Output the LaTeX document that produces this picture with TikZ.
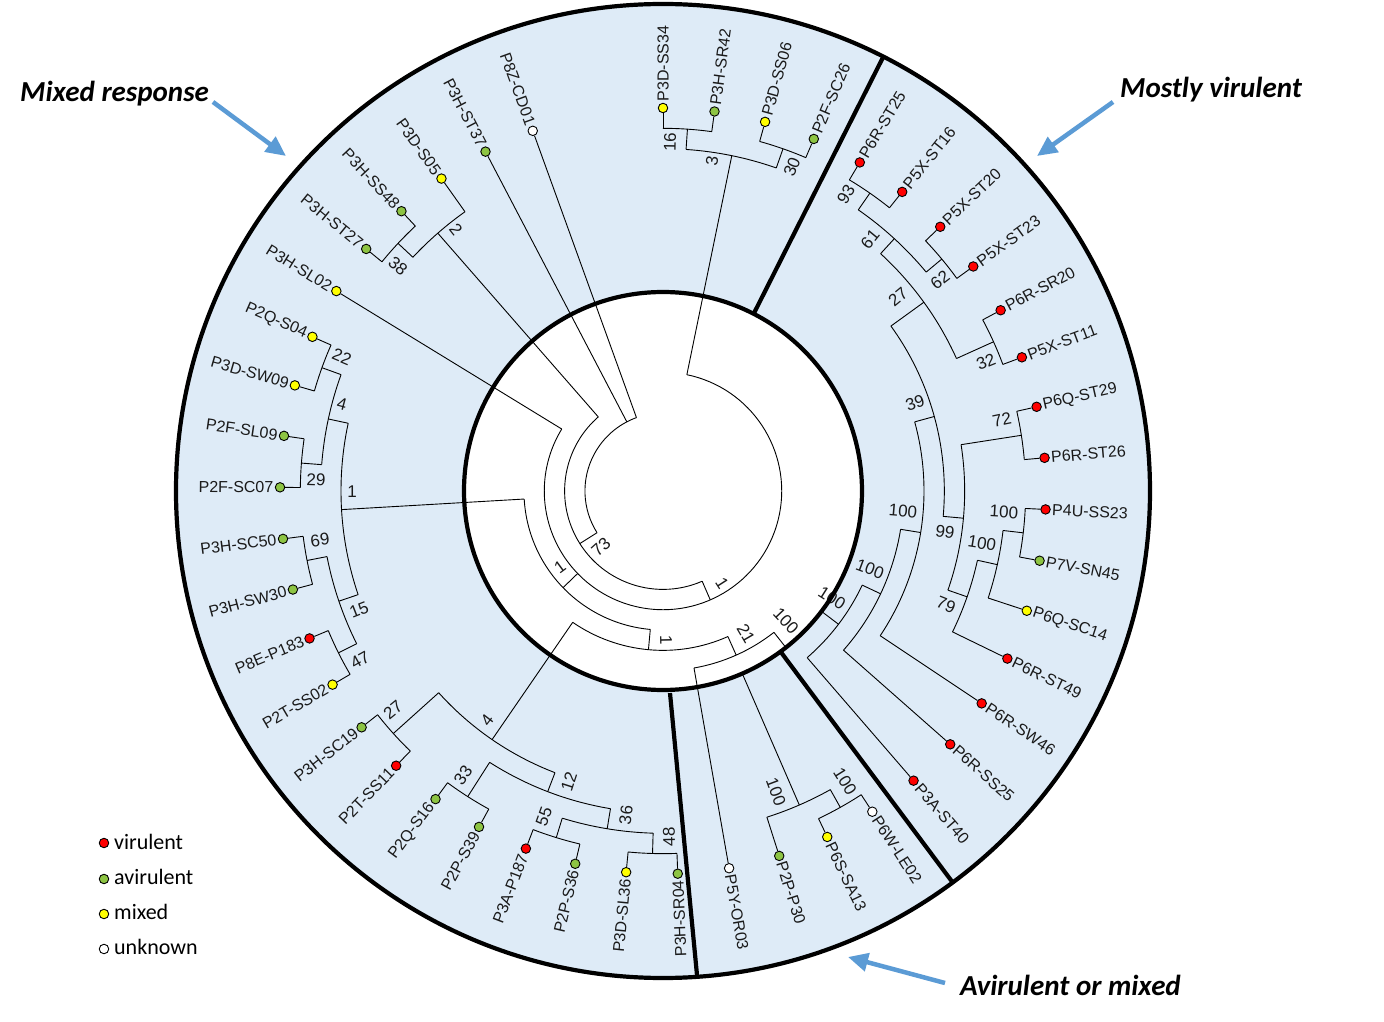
\documentclass[tikz,border=0pt]{standalone}
\usepackage{fontspec}
\setmainfont{Liberation Sans}
\newfontfamily\calibri{Carlito}
\usetikzlibrary{arrows.meta}
\definecolor{vir}{HTML}{FF0000}
\definecolor{avir}{HTML}{8DC443}
\definecolor{mix}{HTML}{FFFF00}
\definecolor{unk}{HTML}{FFFFFF}
\definecolor{ring}{HTML}{DEEBF7}
\definecolor{arrowblue}{HTML}{5B9BD5}
\definecolor{txt}{HTML}{1A1A1A}
\newcommand\tarc[3]{\draw[br] (#2:{383-20.33*#1}) arc[start angle=#2, end angle=#3, radius={383-20.33*#1}];}
\newcommand\trad[3]{\draw[br] (#1:{383-20.33*#2}) -- (#1:{383-20.33*#3});}
\newcommand\tleaf[2]{\draw[br] ({90-7.73*#1}:{383-20.33*#2}) -- (L#1);}
\begin{document}
\begin{tikzpicture}[x=1pt,y=1pt,
  br/.style={line width=0.9pt, black},
  dot/.style={circle, draw=black, line width=0.9pt, minimum size=9.5pt, inner sep=0pt},
  leaf/.style={font=\fontsize{16}{16}\selectfont, inner sep=0pt, text=txt},
  bsl/.style={font=\fontsize{17}{17}\selectfont, inner sep=0pt, text=txt},
  heavy/.style={line width=4.2pt, black},
  title/.style={font=\calibri\bfseries\itshape\fontsize{29}{29}\selectfont, inner sep=0pt, anchor=base west},
  legtxt/.style={font=\calibri\fontsize{22}{22}\selectfont, inner sep=0pt, anchor=west},
  callout/.style={line width=4.5pt, arrowblue, -{Triangle[length=20pt,width=18pt]}}
]
\useasboundingbox (-663,-531) rectangle (721,491);
\fill[white] (-663,-531) rectangle (721,491);
% ring
\fill[ring, even odd rule] (0,0) circle (487) (0,0) circle (199);

% leaves
\foreach \i/\nm/\col in {
0/P3D-SS34/mix, 1/P3H-SR42/avir, 2/P3D-SS06/mix, 3/P2F-SC26/avir,
4/P6R-ST25/vir, 5/P5X-ST16/vir, 6/P5X-ST20/vir, 7/P5X-ST23/vir,
8/P6R-SR20/vir, 9/P5X-ST11/vir, 10/P6Q-ST29/vir, 11/P6R-ST26/vir,
12/P4U-SS23/vir, 13/P7V-SN45/avir, 14/P6Q-SC14/mix, 15/P6R-ST49/vir,
16/P6R-SW46/vir, 17/P6R-SS25/vir, 18/P3A-ST40/vir, 19/P6W-LE02/unk,
20/P6S-SA13/mix, 21/P2P-P30/avir, 22/P5Y-OR03/unk, 23/P3H-SR04/avir,
24/P3D-SL36/mix, 25/P2P-S36/avir, 26/P3A-P187/vir, 27/P2P-S39/avir,
28/P2Q-S16/avir, 29/P2T-SS11/vir, 30/P3H-SC19/avir, 31/P2T-SS02/mix,
32/P8E-P183/vir, 33/P3H-SW30/avir, 34/P3H-SC50/avir, 35/P2F-SC07/avir,
36/P2F-SL09/avir, 37/P3D-SW09/mix, 38/P2Q-S04/mix, 39/P3H-SL02/mix,
40/P3H-ST27/avir, 41/P3H-SS48/avir, 42/P3D-S05/mix, 43/P3H-ST37/avir,
44/P8Z-CD01/unk}{
  \pgfmathsetmacro\ang{90-7.73*\i}
  \node[dot, fill=\col] (L\i) at (\ang:383) {};
  \ifnum\i<23
    \node[leaf, anchor=west, rotate=\ang] (T\i) at (\ang:389.5) {\nm};
  \else
    \node[leaf, anchor=east, rotate=\ang+180] (T\i) at (\ang:389.5) {\nm};
  \fi
}

% tree: top clade
\tarc{1}{90}{82.27} \tleaf{0}{1} \tleaf{1}{1}
\tarc{1}{74.54}{66.81} \tleaf{2}{1} \tleaf{3}{1}
\tarc{2}{86.135}{70.675} \trad{86.135}{2}{1} \trad{70.675}{2}{1}
% mostly virulent
\tarc{1}{59.08}{51.35} \tleaf{4}{1} \tleaf{5}{1}
\tarc{1}{43.62}{35.89} \tleaf{6}{1} \tleaf{7}{1}
\tarc{2}{55.215}{39.755} \trad{55.215}{2}{1} \trad{39.755}{2}{1}
\tarc{1}{28.16}{20.43} \tleaf{8}{1} \tleaf{9}{1}
\tarc{3}{47.485}{24.295} \trad{47.485}{3}{2} \trad{24.295}{3}{1}
\tarc{1}{12.70}{4.97} \tleaf{10}{1} \tleaf{11}{1}
\tarc{1}{-2.76}{-10.49} \tleaf{12}{1} \tleaf{13}{1}
\tarc{2}{-6.625}{-18.22} \trad{-6.625}{2}{1} \tleaf{14}{2}
\tarc{3}{-12.4225}{-25.95} \trad{-12.4225}{3}{2} \tleaf{15}{3}
\tarc{4}{8.835}{-19.186} \trad{8.835}{4}{1} \trad{-19.186}{4}{3}
\tarc{5}{35.89}{-5.1755} \trad{35.89}{5}{3} \trad{-5.1755}{5}{4}
\tarc{6}{15.357}{-33.68} \trad{15.357}{6}{5} \tleaf{16}{6}
\tarc{7}{-9.16}{-41.41} \trad{-9.16}{7}{6} \tleaf{17}{7}
\tarc{8}{-25.285}{-49.14} \trad{-25.285}{8}{7} \tleaf{18}{8}
% avirulent or mixed
\tarc{1}{-56.87}{-64.60} \tleaf{19}{1} \tleaf{20}{1}
\tarc{2}{-60.735}{-72.33} \trad{-60.735}{2}{1} \tleaf{21}{2}
\tarc{9}{-37.21}{-66.53} \trad{-37.21}{9}{8} \trad{-66.53}{9}{2}
\tarc{10}{-51.87}{-80.06} \trad{-51.87}{10}{9} \tleaf{22}{10}
% bottom part of mixed response
\tarc{1}{-87.79}{-95.52} \tleaf{23}{1} \tleaf{24}{1}
\tarc{1}{-103.25}{-110.98} \tleaf{25}{1} \tleaf{26}{1}
\tarc{2}{-91.655}{-107.115} \trad{-91.655}{2}{1} \trad{-107.115}{2}{1}
\tarc{1}{-118.71}{-126.44} \tleaf{27}{1} \tleaf{28}{1}
\tarc{3}{-99.385}{-122.575} \trad{-99.385}{3}{2} \trad{-122.575}{3}{1}
\tarc{1}{-134.17}{-141.90} \tleaf{29}{1} \tleaf{30}{1}
\tarc{4}{-110.98}{-138.035} \trad{-110.98}{4}{3} \trad{-138.035}{4}{1}
\tarc{11}{-65.965}{-124.51} \trad{-65.965}{11}{10} \trad{-124.51}{11}{4}
% left part
\tarc{1}{-149.63}{-157.36} \tleaf{31}{1} \tleaf{32}{1}
\tarc{1}{-165.09}{-172.82} \tleaf{33}{1} \tleaf{34}{1}
\tarc{2}{-153.495}{-168.955} \trad{-153.495}{2}{1} \trad{-168.955}{2}{1}
\tarc{1}{-180.55}{-188.28} \tleaf{35}{1} \tleaf{36}{1}
\tarc{1}{-196.01}{-203.74} \tleaf{37}{1} \tleaf{38}{1}
\tarc{2}{-184.415}{-199.875} \trad{-184.415}{2}{1} \trad{-199.875}{2}{1}
\tarc{3}{-161.225}{-192.145} \trad{-161.225}{3}{2} \trad{-192.145}{3}{2}
\tarc{12}{-95.24}{-176.685} \trad{-95.24}{12}{11} \trad{-176.685}{12}{3}
\tarc{13}{78.405}{-211.47} \trad{78.405}{13}{2} \trad{-135.9625}{13}{12} \tleaf{39}{13}
\tarc{1}{-219.20}{-226.93} \tleaf{40}{1} \tleaf{41}{1}
\tarc{2}{-223.065}{-234.66} \trad{-223.065}{2}{1} \tleaf{42}{2}
\tarc{14}{-66.53}{-228.8625} \trad{-66.53}{14}{13} \trad{-228.8625}{14}{2}
\tarc{15}{-147.696}{-250.12} \trad{-147.696}{15}{14} \tleaf{43}{15} \tleaf{44}{15}

% bootstrap values
\foreach \x/\y/\r/\t [count=\k] in {
7/349/88.85/16, 49/330/81.55/3, 129/324/68.3/30, 183/297/58.4/93,
207/252/50.6/61, 277/211/37.3/62, 235/194/39.5/27, 323/129/21.8/32,
252/88/19.25/39, 339/71/11.8/72, 341/-21/-3.5/100, 282/-41/-8.3/99,
319/-52/-9.3/100, 283/-114/-21.9/79, 240/-20/-4.8/100, 207/-78/-20.6/100,
169/-107/-32.3/100, 123/-130/-46.6/100, 83/-143/-59.9/21, 59/-92/-57.3/1,
3/-149/-88.8/1, -62/-56/42.1/73, -103/-76/36.4/1, -311/-1/0/1,
-321/87/-15.2/4, -321/134/-22.7/22, -347/11/-1.8/29, -343/-49/8.1/69,
-304/-119/21.4/15, -303/-169/29.2/47, -265/225/-40.3/38, -207/261/-51.6/2,
-270/-219/39/27, -176/-229/52.5/4, -200/-284/54.8/33, -94/-291/72.1/12,
-119/-326/70/55, -37/-324/83.5/36, 6/-346/91/48, 113/-301/-69.4/100,
182/-290/-57.9/100}{
  \node[bsl, rotate=\r] (B\k) at (\x,\y) {\t};
}

% heavy circles and separators
\draw[heavy] (62.9:199) -- (63.1:487);
\draw[heavy] (-53.8:199) -- (-53.5:487);
\draw[heavy] (7,-202) -- (34,-484);
\draw[heavy] (0,0) circle (199);
\draw[heavy] (0,0) circle (487);

% group titles and arrows
\node[title] (t1) at (-643,389.5) {Mixed response};
\node[title] (t2) at (457,393.3) {Mostly virulent};
\node[title] (t3) at (297,-504) {Avirulent or mixed};
\coordinate (a1s) at (-450,389); \coordinate (a1e) at (-377,335);
\coordinate (a2s) at (450,389);  \coordinate (a2e) at (374,335);
\coordinate (a3s) at (282,-492); \coordinate (a3e) at (185,-466);
\draw[callout] (a1s) -- (a1e);
\draw[callout] (a2s) -- (a2e);
\draw[callout] (a3s) -- (a3e);

% legend
\node[dot, fill=vir]  (g1) at (-559,-352) {};
\node[dot, fill=avir] (g2) at (-559,-388) {};
\node[dot, fill=mix]  (g3) at (-559,-423) {};
\node[dot, fill=unk]  (g4) at (-559,-458) {};
\node[legtxt] (h1) at (-549,-351) {virulent};
\node[legtxt] (h2) at (-549,-386) {avirulent};
\node[legtxt] (h3) at (-549,-421) {mixed};
\node[legtxt] (h4) at (-549,-456) {unknown};
\end{tikzpicture}
\end{document}
